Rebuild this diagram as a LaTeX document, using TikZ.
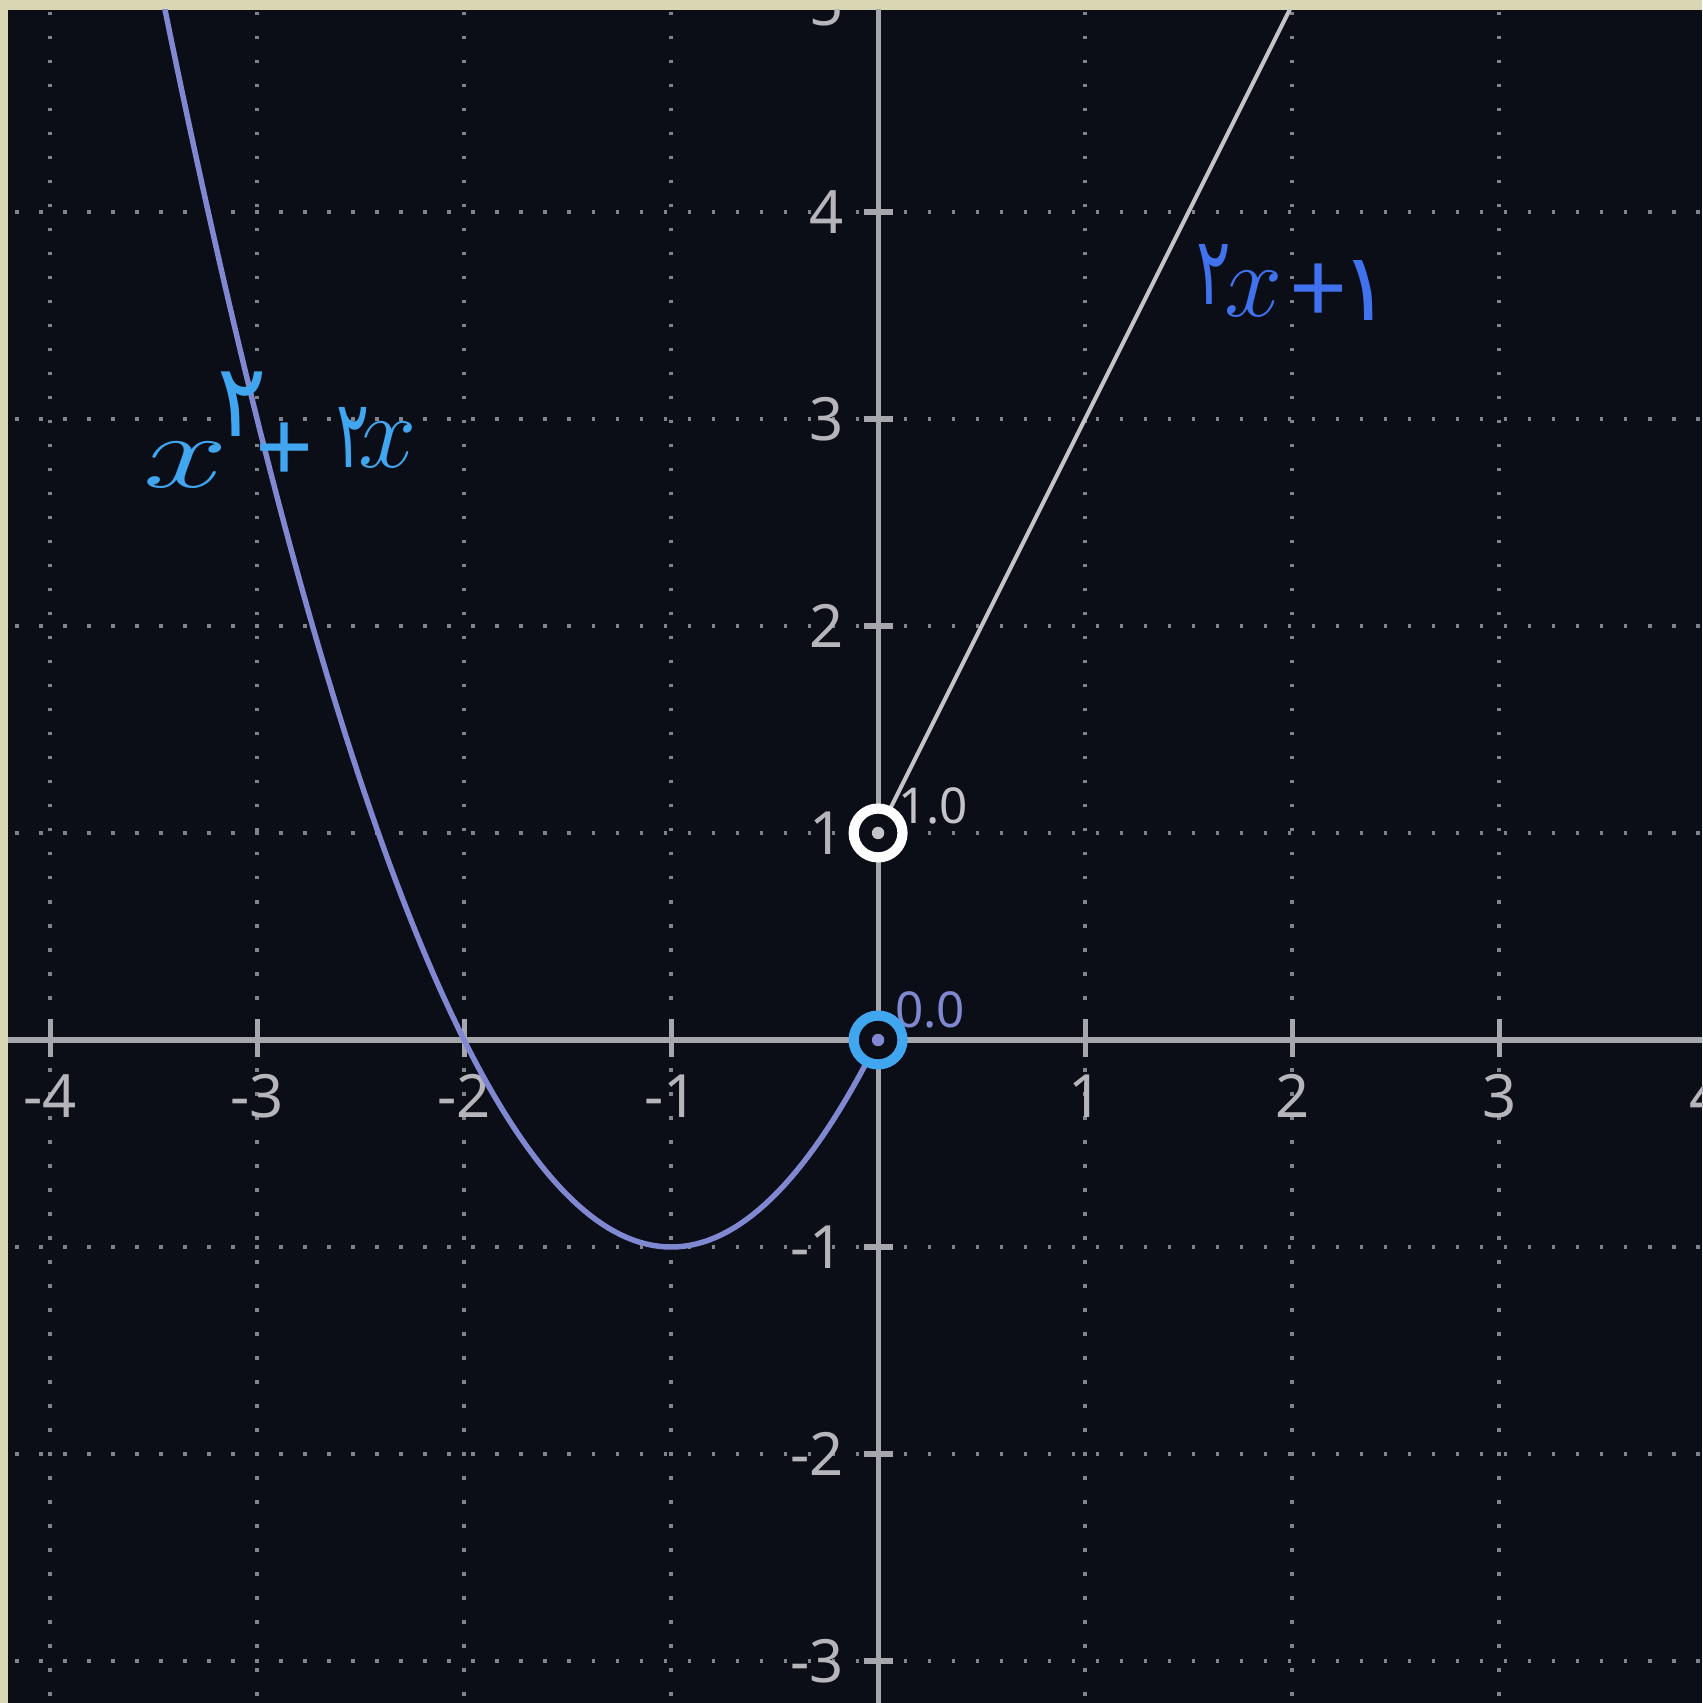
\documentclass[tikz,border=0pt]{standalone}
\usepackage{fontspec}
\setmainfont{Noto Sans}
\newfontfamily\fahand{DejaVu Sans}
\usepackage{tikz}
\usetikzlibrary{positioning}
\definecolor{gpFrame}{HTML}{D9D6B4}
\definecolor{gpBg}{HTML}{0B0D17}
\definecolor{gpGrid}{HTML}{80838C}
\definecolor{gpAxis}{HTML}{A6A7AD}
\definecolor{gpTick}{HTML}{B6B6BA}
\definecolor{gpCurve}{HTML}{8088D2}
\definecolor{gpLine}{HTML}{C4C4C8}
\definecolor{gpSky}{HTML}{40A6F0}
\definecolor{gpInk}{HTML}{3F72EC}
\tikzset{
  gridln/.style={gpGrid,line width=0.5pt,dash pattern=on 0.5pt off 2.8pt},
  axisln/.style={gpAxis,line width=0.7pt},
  tickln/.style={gpAxis,line width=0.7pt},
  ticklbl/.style={font=\fontsize{8.2}{9}\selectfont,text=gpTick,inner sep=0pt},
  ptlbl/.style={font=\fontsize{6.8}{8}\selectfont,inner sep=0pt},
  curveln/.style={gpCurve,line width=0.75pt},
  lineln/.style={gpLine,line width=0.55pt},
  openpt/.style={circle,draw=#1,fill=gpBg,line width=1.4pt,
    minimum size=0.236cm,inner sep=0pt},
  dotpt/.style={circle,fill=#1,minimum size=0.06cm,inner sep=0pt},
  hand/.style={inner sep=0pt,anchor=base,font=\fontsize{14}{16}\selectfont},
  handfa/.style={inner sep=0pt,anchor=base,font=\fontsize{13}{15}\fahand},
}
\begin{document}
\begin{tikzpicture}
  \useasboundingbox (-4.242,-3.203) rectangle (3.981,5.024);
  \fill[gpFrame] (-4.242,-3.203) rectangle (3.981,5.024);
  \fill[gpBg] (-4.203,-3.203) rectangle (3.981,4.976);

  \begin{scope}
    \clip (-4.203,-3.203) rectangle (3.981,4.976);
    \foreach \i in {-4,...,4} {
      \draw[gridln] (\i,-3.4) -- (\i,5.2);
    }
    \foreach \j in {-3,...,5} {
      \draw[gridln] (-4.4,\j) -- (4.2,\j);
    }
    \draw[axisln] (-4.4,0) -- (4.2,0);
    \draw[axisln] (0,-3.4) -- (0,5.2);
    \foreach \i in {-4,-3,-2,-1,1,2,3,4} {
      \draw[tickln] (\i,-0.08) -- (\i,0.1);
      \node[ticklbl] (xl\i) at (\i,-0.27) {\i};
    }
    \foreach \j in {-3,-2,-1,1,2,3,4,5} {
      \draw[tickln] (-0.07,\j) -- (0.07,\j);
      \node[ticklbl,anchor=east] (yl\j) at (-0.16,\j) {\j};
    }

    \draw[curveln] plot[domain=-3.6:0,samples=120] (\x,{\x*\x+2*\x});
    \draw[lineln] (0,1) -- (2.2,5.4);

    \node[ptlbl,text=gpLine,anchor=west] (v1) at (0.09,1.13) {1.0};
    \node[ptlbl,text=gpCurve,anchor=west] (v0) at (0.075,0.145) {0.0};
    \node[openpt=white] (p1) at (0,1) {};
    \node[dotpt=gpLine] (d1) at (p1.center) {};
    \node[openpt=gpSky] (p0) at (0,0) {};
    \node[dotpt=gpCurve] (d0) at (p0.center) {};

    % x^2 + 2x
    \node[hand,text=gpSky,font=\fontsize{15}{17}\selectfont] (fqx)
      at (-3.343,2.671) {\scalebox{1.45}[1]{$x$}};
    \node[handfa,text=gpSky,font=\fontsize{14}{16}\fahand] (fqsq)
      at (-3.072,2.913) {\scalebox{0.9}[1]{۲}};
    \node[hand,text=gpSky,anchor=center] (fqp) at (-2.865,2.836) {+};
    \node[handfa,text=gpSky] (fq2) at (-2.536,2.768) {\scalebox{0.65}[1]{۲}};
    \node[hand,text=gpSky,font=\fontsize{15}{17}\selectfont] (fqxx)
      at (-2.367,2.768) {$x$};

    % 2x + 1
    \node[handfa,text=gpInk] (fl2) at (1.623,3.551) {\scalebox{0.68}[1]{۲}};
    \node[hand,text=gpInk] (flx) at (1.816,3.493) {$x$};
    \node[hand,text=gpInk,anchor=center] (flp) at (2.130,3.604) {+};
    \node[handfa,text=gpInk] (fl1) at (2.357,3.478) {۱};
  \end{scope}
\end{tikzpicture}
\end{document}
